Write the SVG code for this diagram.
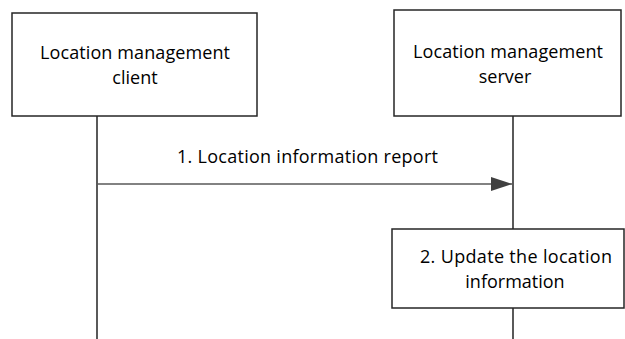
<svg xmlns="http://www.w3.org/2000/svg" width="625" height="339" viewBox="0 0 625 339">
<style>
.box{fill:#fff;stroke:#262626;stroke-width:1.5}
.life{stroke:#000;stroke-width:1.3;fill:none}
.t{font-family:"Open Sans","Liberation Sans",sans-serif;font-size:18px;fill:#000;text-anchor:middle}
</style>
<defs>
<marker id="ah" markerWidth="21" markerHeight="14" refX="21" refY="7" orient="auto" markerUnits="userSpaceOnUse">
<path d="M0,0 L21,7 L0,14 Z" fill="#404040"/>
</marker>
</defs>
<rect width="625" height="339" fill="#fff"/>
<g id="connectors">
<line class="life" x1="97" y1="116" x2="97" y2="339"/>
<line class="life" x1="513" y1="116" x2="513" y2="229"/>
<line class="life" x1="513" y1="308" x2="513" y2="339"/>
<line x1="97" y1="184" x2="512" y2="184" stroke="#595959" stroke-width="1.3" marker-end="url(#ah)"/>
<text class="t" x="307.5" y="163" textLength="261" lengthAdjust="spacing">1. Location information report</text>
</g>
<g id="client">
<rect class="box" x="12" y="13" width="245" height="103"/>
<text class="t" x="135" y="59" textLength="190" lengthAdjust="spacing">Location management</text>
<text class="t" x="135" y="84">client</text>
</g>
<g id="server">
<rect class="box" x="394" y="10" width="227" height="106"/>
<text class="t" x="508" y="58" textLength="190" lengthAdjust="spacing">Location management</text>
<text class="t" x="505" y="83">server</text>
</g>
<g id="update">
<rect class="box" x="392" y="229" width="232" height="79"/>
<text class="t" x="516" y="263" textLength="192" lengthAdjust="spacing">2. Update the location</text>
<text class="t" x="515" y="288">information</text>
</g>
</svg>
